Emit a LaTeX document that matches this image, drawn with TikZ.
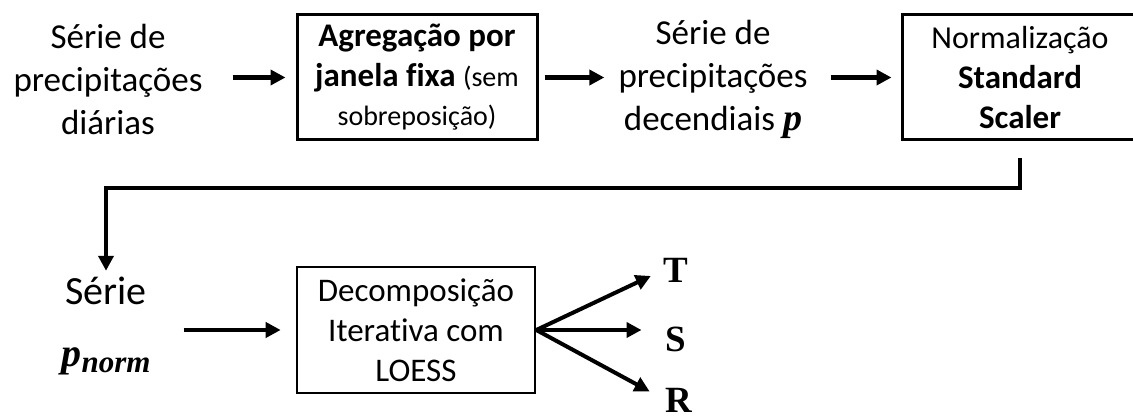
\documentclass[tikz,border=0pt]{standalone}
\usepackage{fontspec}
\setmainfont{Carlito}[Ligatures={NoCommon}]
\newfontfamily\serifB{Liberation Serif}
\usetikzlibrary{arrows.meta,calc}
\newcommand{\pbold}{{\serifB\bfseries\itshape p}}
\begin{document}
\begin{tikzpicture}[x=1pt,y=-1pt,
  box/.style={draw, line width=3pt, minimum width=240pt, minimum height=125pt, align=center, inner sep=0pt, font=\fontsize{33}{37}\selectfont},
  txt/.style={align=center, inner sep=0pt, font=\fontsize{35}{38}\selectfont},
  arr/.style={line width=4.5pt, -{Triangle[length=15pt,width=15pt]}},
  lbl/.style={font=\serifB\bfseries\fontsize{37}{40}\selectfont, inner sep=0pt}]
\useasboundingbox[fill=white] (0,0) rectangle (1133,419);
\node[txt] (t1) at (108,79) {Série de\\[5pt]precipitações\\[5pt]diárias};
\node[box] (b1) at (417,77.5) {\textbf{Agregação por}\\[3pt]\textbf{janela fixa} {\fontsize{28}{37}\selectfont(sem}\\[2pt]{\fontsize{28}{35}\selectfont sobreposição)}};
\node[txt] (t2) at (713,79) {Série de\\[5pt]precipitações\\[5pt]decendiais {\fontsize{38}{38}\selectfont\pbold}};
\node[box, minimum width=236pt] (b3) at (1020,77.5) {{\fontsize{32}{37}\selectfont Normalização}\\[3pt]\textbf{Standard}\\[3pt]\textbf{Scaler}};
\node[txt, font=\fontsize{40}{62}\selectfont] (t4) at (106,326) {Série\\{\fontsize{40}{62}\selectfont\pbold\raisebox{-6pt}{\fontsize{31}{31}\selectfont\serifB\bfseries\itshape norm}}};
\node[box, line width=2.6pt, minimum width=238pt, minimum height=126pt] (b4) at (416,330) {Decomposição\\[3pt]Iterativa com\\[3pt]LOESS};
\node[lbl] (T) at (676,270) {T};
\node[lbl] (S) at (676,339) {S};
\node[lbl] (R) at (679,400) {R};
\draw[arr, shorten <=30pt, shorten >=10pt] (t1.east |- b1.west) -- (b1.west);
\draw[arr, shorten <=6pt, shorten >=14pt] (b1.east) -- (t2.west |- b1.east);
\draw[arr, shorten <=23pt, shorten >=9pt] (t2.east |- b3.west) -- (b3.west);
\coordinate (c2) at (106,188);
\draw[line width=4pt, -{Triangle[length=15pt,width=15pt]}, shorten <=17pt, shorten >=6pt] (b3.south) |- (c2) -- (c2 |- t4.north);
\draw[arr, shorten <=33pt, shorten >=15pt] (t4.east |- b4.west) -- (b4.west);
\draw[arr, line width=4pt, shorten >=14pt] (b4.east) -- (T.west);
\draw[arr, line width=4pt, shorten >=24pt] (b4.east) -- (b4.east -| S.west);
\draw[arr, line width=4pt, shorten >=18pt] (b4.east) -- (R.west);
\end{tikzpicture}
\end{document}
